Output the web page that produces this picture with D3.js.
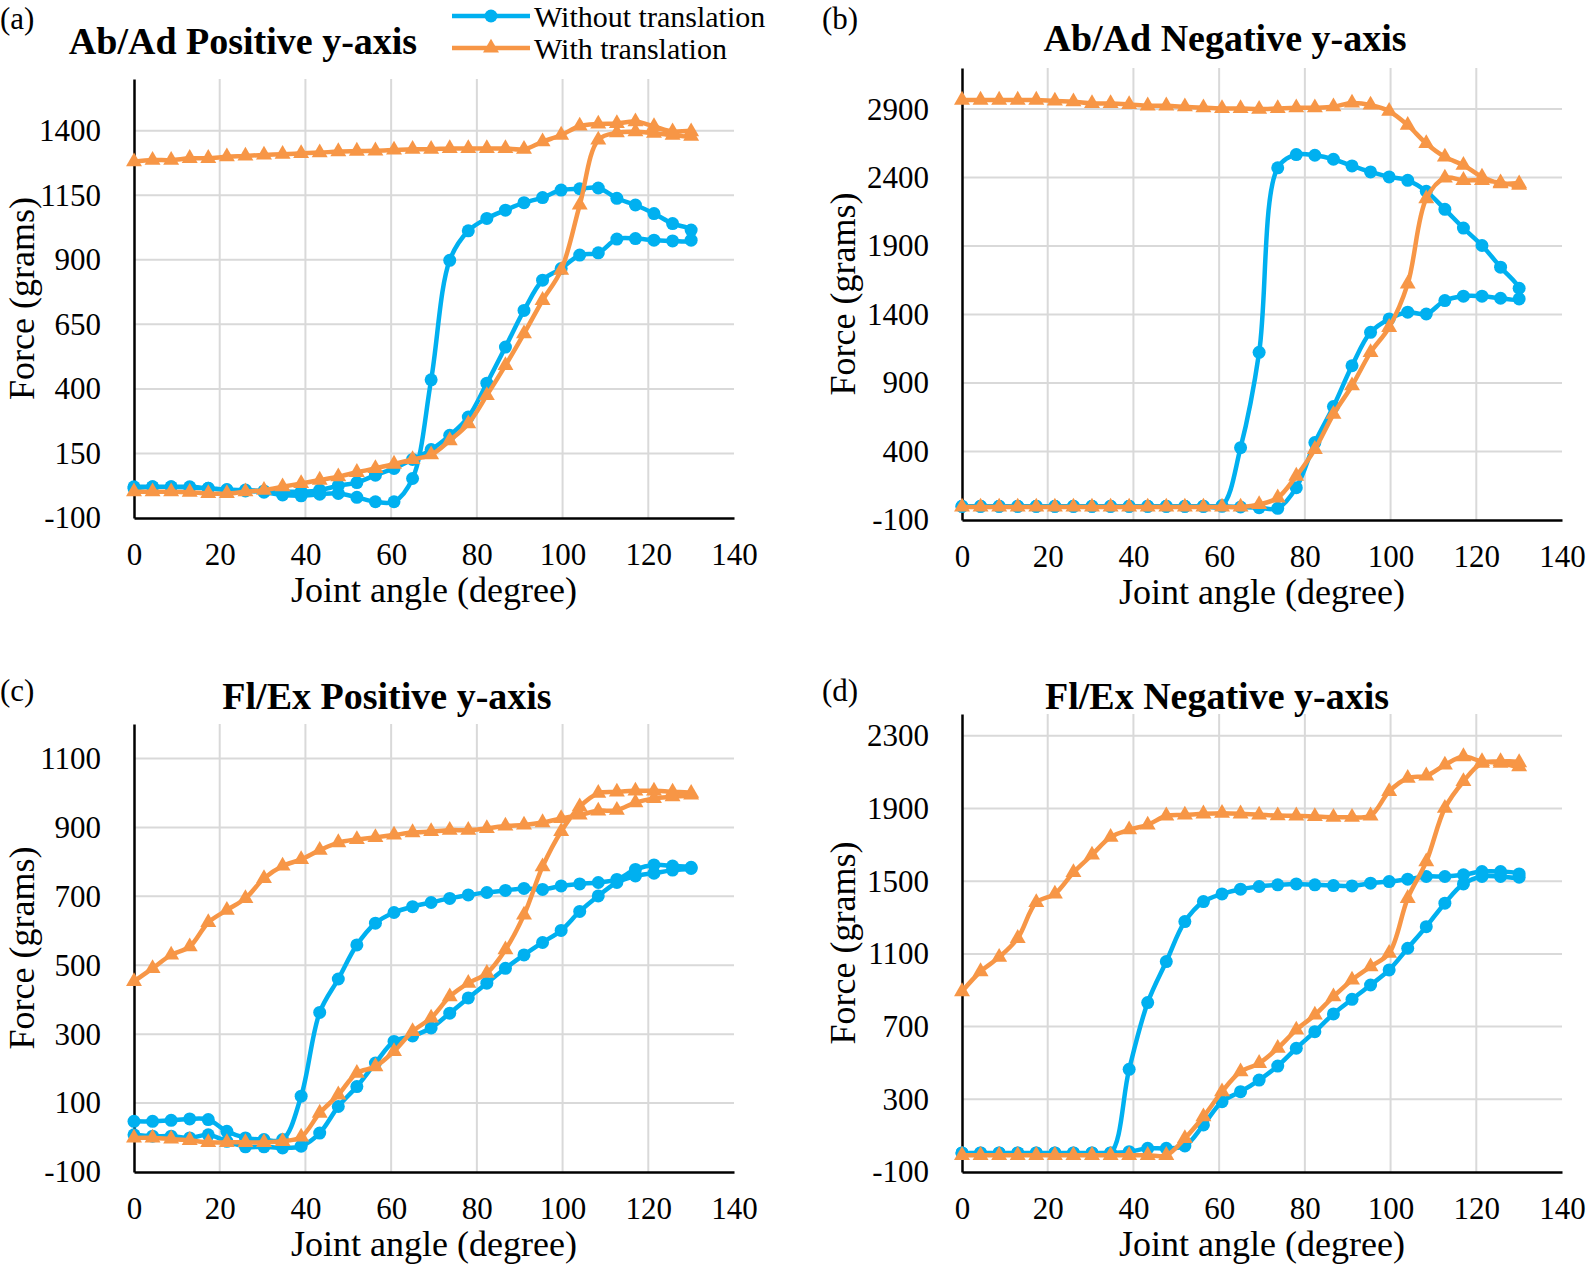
<!DOCTYPE html>
<html>
<head>
<meta charset="utf-8">
<script src="https://cdn.jsdelivr.net/npm/d3@7"></script>
<style>
	body { margin: 0; background: #fff; }
	svg { display: block; }
</style>
</head>
<body>
<svg class="chart"></svg>
<script>
// joint angle of each sample (degrees), shared by every loop
var angles = [0, 4.33, 8.67, 13, 17.33, 21.67, 26, 30.33, 34.67, 39, 43.33, 47.67, 52, 56.33, 60.67,
	65, 69.33, 73.67, 78, 82.33, 86.67, 91, 95.33, 99.67, 104, 108.33, 112.67, 117, 121.33, 125.67, 130];
var xTicks = [0, 20, 40, 60, 80, 100, 120, 140];
var seriesNames = ["Without translation", "With translation"];

// (a) Ab/Ad Positive y-axis
var aTicks = [-100, 150, 400, 650, 900, 1150, 1400];
var aBlueUp = [21, 21, 21, 18, 15, 8, 5, 0, -11, -14, -8, -5, -20, -37, -37, 53, 435, 898, 1012, 1060, 1092, 1121, 1141, 1170, 1175, 1178, 1138, 1112, 1079, 1040, 1015];
var aBlueDown = [15, 21, 21, 21, 15, 10, 8, 5, 2, 2, 8, 25, 37, 66, 92, 127, 165, 220, 291, 422, 562, 704, 821, 866, 918, 927, 980, 982, 976, 973, 976];
var aOrangeUp = [2, 2, 2, 0, -5, -5, 2, 8, 21, 34, 47, 60, 77, 92, 109, 127, 145, 200, 265, 375, 491, 614, 743, 860, 1112, 1364, 1392, 1396, 1390, 1383, 1379];
var aOrangeDown = [1280, 1286, 1286, 1293, 1293, 1299, 1302, 1306, 1309, 1312, 1315, 1319, 1321, 1322, 1325, 1328, 1328, 1331, 1331, 1331, 1331, 1328, 1357, 1383, 1418, 1426, 1428, 1435, 1416, 1396, 1396];

// (b) Ab/Ad Negative y-axis
var bTicks = [-100, 400, 900, 1400, 1900, 2400, 2900];
var bBlueUp = [0, 0, 0, 0, 0, 0, 0, 0, 0, 0, 0, 0, 0, 0, 5, 428, 1124, 2471, 2568, 2563, 2534, 2485, 2441, 2405, 2380, 2300, 2168, 2031, 1904, 1746, 1592];
var bBlueDown = [0, 0, 0, 0, 0, 0, 0, 0, 0, 0, 0, 0, 0, 0, 0, -5, -10, -15, 136, 465, 728, 1026, 1270, 1368, 1417, 1404, 1502, 1534, 1534, 1519, 1514];
var bOrangeUp = [-5, -5, -5, -5, -5, -5, -5, -5, -5, -5, -5, -5, -5, -5, -5, -5, 13, 62, 221, 416, 672, 880, 1124, 1307, 1624, 2246, 2397, 2380, 2380, 2363, 2344];
var bOrangeDown = [2966, 2966, 2966, 2966, 2966, 2959, 2954, 2941, 2941, 2934, 2924, 2924, 2917, 2910, 2905, 2905, 2900, 2905, 2910, 2910, 2917, 2945, 2930, 2885, 2783, 2649, 2551, 2490, 2405, 2356, 2356];

// (c) Fl/Ex Positive y-axis
var cTicks = [-100, 100, 300, 500, 700, 900, 1100];
var cBlueUp = [8, 4, 4, -1, 8, -11, -27, -27, -30, -25, 13, 90, 148, 216, 279, 295, 318, 361, 405, 448, 491, 530, 566, 601, 656, 701, 740, 759, 767, 776, 781];
var cBlueDown = [47, 47, 50, 54, 52, 18, -1, -6, -6, 120, 363, 460, 559, 622, 653, 670, 682, 694, 704, 711, 717, 723, 720, 730, 736, 740, 749, 778, 791, 788, 784];
var cOrangeUp = [-1, -1, -4, -8, -14, -14, -14, -14, -11, 2, 71, 124, 187, 206, 250, 308, 347, 409, 448, 477, 545, 646, 786, 888, 960, 999, 1003, 1006, 1006, 1003, 999];
var cOrangeDown = [453, 491, 530, 554, 624, 660, 694, 752, 788, 807, 834, 856, 865, 871, 878, 885, 888, 892, 892, 897, 904, 907, 914, 926, 936, 948, 950, 972, 984, 989, 994];

// (d) Fl/Ex Negative y-axis
var dTicks = [-100, 300, 700, 1100, 1500, 1900, 2300];
var dBlueUp = [5, 5, 5, 5, 5, 5, 5, 5, 5, 465, 832, 1058, 1278, 1388, 1430, 1456, 1471, 1480, 1485, 1480, 1476, 1474, 1489, 1498, 1511, 1526, 1526, 1535, 1553, 1553, 1540];
var dBlueDown = [5, 5, 5, 5, 5, 5, 5, 5, 5, 12, 30, 30, 43, 159, 287, 342, 406, 483, 581, 672, 770, 850, 929, 1012, 1131, 1250, 1379, 1485, 1526, 1526, 1522];
var dOrangeUp = [-8, -8, -8, -8, -8, -8, -8, -8, -8, -8, -8, -8, 85, 204, 342, 452, 498, 581, 682, 764, 865, 957, 1030, 1104, 1406, 1608, 1902, 2049, 2150, 2150, 2131];
var dOrangeDown = [893, 1003, 1082, 1186, 1383, 1430, 1548, 1645, 1742, 1783, 1810, 1860, 1865, 1871, 1874, 1871, 1865, 1861, 1860, 1856, 1852, 1852, 1860, 1994, 2067, 2080, 2140, 2186, 2159, 2159, 2153];

var blue = "#00b0f0";
var orange = "#f79646";
var serif = "'Liberation Serif', 'Times New Roman', serif";

var panels = [
	{ label: "(a)", title: "Ab/Ad Positive y-axis", ticks: aTicks, yMax: 1600,
		blue: [aBlueUp, aBlueDown], orange: [aOrangeUp, aOrangeDown],
		left: 134, right: 734, top: 79, bottom: 518, labelX: 0, labelY: 18, titleX: 243, titleY: 41, yTitleX: 21 },
	{ label: "(b)", title: "Ab/Ad Negative y-axis", ticks: bTicks, yMax: 3200,
		blue: [bBlueUp, bBlueDown], orange: [bOrangeUp, bOrangeDown],
		left: 962, right: 1562, top: 68, bottom: 520, labelX: 822, labelY: 18, titleX: 1225, titleY: 38, yTitleX: 842 },
	{ label: "(c)", title: "Fl/Ex Positive y-axis", ticks: cTicks, yMax: 1200,
		blue: [cBlueUp, cBlueDown], orange: [cOrangeUp, cOrangeDown],
		left: 134, right: 734, top: 724, bottom: 1172, labelX: 0, labelY: 690, titleX: 387, titleY: 696, yTitleX: 21 },
	{ label: "(d)", title: "Fl/Ex Negative y-axis", ticks: dTicks, yMax: 2420,
		blue: [dBlueUp, dBlueDown], orange: [dOrangeUp, dOrangeDown],
		left: 962, right: 1562, top: 714, bottom: 1172, labelX: 822, labelY: 690, titleX: 1217, titleY: 696, yTitleX: 842 }
];

var svg = d3.select(".chart")
	.attr("width", 1589)
	.attr("height", 1266)
	.attr("font-family", serif);

var triangle = d3.symbol().type(d3.symbolTriangle).size(110);
var plain = function(d) { return String(d); };

// one hysteresis loop: out to 130 degrees, then back to 0
function loopPoints(up, down) {
	var out = angles.map(function(a, i) { return [a, up[i]]; });
	var back = angles.map(function(a, i) { return [a, down[i]]; }).reverse();
	return out.concat(back);
}

panels.forEach(function(p) {
	var x = d3.scaleLinear().domain([0, 140]).range([p.left, p.right]);
	var y = d3.scaleLinear().domain([-100, p.yMax]).range([p.bottom, p.top]);
	var g = svg.append("g");

	// Gridlines
	g.append("g")
		.selectAll("line")
		.data(p.ticks.slice(1))
		.enter()
		.append("line")
			.attr("x1", p.left)
			.attr("x2", p.right)
			.attr("y1", function(d) { return y(d); })
			.attr("y2", function(d) { return y(d); })
			.attr("stroke", "#d9d9d9")
			.attr("stroke-width", 2);

	g.append("g")
		.selectAll("line")
		.data(xTicks.slice(1, -1))
		.enter()
		.append("line")
			.attr("x1", function(d) { return x(d); })
			.attr("x2", function(d) { return x(d); })
			.attr("y1", p.top)
			.attr("y2", p.bottom)
			.attr("stroke", "#d9d9d9")
			.attr("stroke-width", 2);

	// Axes
	var yAxis = g.append("g")
		.attr("transform", "translate(" + p.left + ",0)")
		.call(d3.axisLeft(y).tickValues(p.ticks).tickFormat(plain).tickSize(0).tickPadding(33));

	var xAxis = g.append("g")
		.attr("transform", "translate(0," + p.bottom + ")")
		.call(d3.axisBottom(x).tickValues(xTicks).tickFormat(plain).tickSize(0).tickPadding(25));

	[yAxis, xAxis].forEach(function(ax) {
		ax.attr("font-family", serif).attr("font-size", 31);
		ax.select(".domain").attr("stroke", "#000").attr("stroke-width", 2.5);
		ax.selectAll("text").attr("fill", "#000");
	});

	// Series
	var line = d3.line()
		.x(function(d) { return x(d[0]); })
		.y(function(d) { return y(d[1]); })
		.curve(d3.curveCatmullRom.alpha(0.5));

	var bluePts = loopPoints(p.blue[0], p.blue[1]);
	var orangePts = loopPoints(p.orange[0], p.orange[1]);

	g.append("path")
		.attr("d", line(bluePts))
		.attr("fill", "none")
		.attr("stroke", blue)
		.attr("stroke-width", 4.5);

	g.append("g")
		.selectAll("circle")
		.data(bluePts)
		.enter()
		.append("circle")
			.attr("cx", function(d) { return x(d[0]); })
			.attr("cy", function(d) { return y(d[1]); })
			.attr("r", 6.5)
			.attr("fill", blue);

	g.append("path")
		.attr("d", line(orangePts))
		.attr("fill", "none")
		.attr("stroke", orange)
		.attr("stroke-width", 4.5);

	g.append("g")
		.selectAll("path")
		.data(orangePts)
		.enter()
		.append("path")
			.attr("d", triangle)
			.attr("transform", function(d) { return "translate(" + x(d[0]) + "," + y(d[1]) + ")"; })
			.attr("fill", orange);

	// Texts
	g.append("text")
		.attr("x", p.labelX)
		.attr("y", p.labelY)
		.attr("dy", "0.35em")
		.attr("font-size", 31)
		.text(p.label);

	g.append("text")
		.attr("x", p.titleX)
		.attr("y", p.titleY)
		.attr("dy", "0.35em")
		.attr("text-anchor", "middle")
		.attr("font-size", 38)
		.attr("font-weight", "bold")
		.text(p.title);

	g.append("text")
		.attr("x", (p.left + p.right) / 2)
		.attr("y", p.bottom + 71)
		.attr("dy", "0.35em")
		.attr("text-anchor", "middle")
		.attr("font-size", 36)
		.text("Joint angle (degree)");

	g.append("text")
		.attr("transform", "translate(" + p.yTitleX + "," + (p.top + p.bottom) / 2 + ") rotate(-90)")
		.attr("dy", "0.35em")
		.attr("text-anchor", "middle")
		.attr("font-size", 36)
		.text("Force (grams)");
});

// Legend
var legend = svg.append("g")
	.attr("class", "legend")
	.selectAll("g")
	.data(seriesNames)
	.enter()
	.append("g")
		.attr("transform", function(d, i) { return "translate(452," + (16 + i * 32) + ")"; });

legend.append("line")
	.attr("x1", 0)
	.attr("x2", 78)
	.attr("stroke", function(d, i) { return i ? orange : blue; })
	.attr("stroke-width", 4.5);

legend.append("path")
	.attr("d", function(d, i) {
		return i ? triangle() : d3.symbol().type(d3.symbolCircle).size(133)();
	})
	.attr("transform", "translate(39,0)")
	.attr("fill", function(d, i) { return i ? orange : blue; });

legend.append("text")
	.attr("x", 82)
	.attr("dy", "0.35em")
	.attr("font-size", 30)
	.text(function(d) { return d; });
</script>
</body>
</html>
